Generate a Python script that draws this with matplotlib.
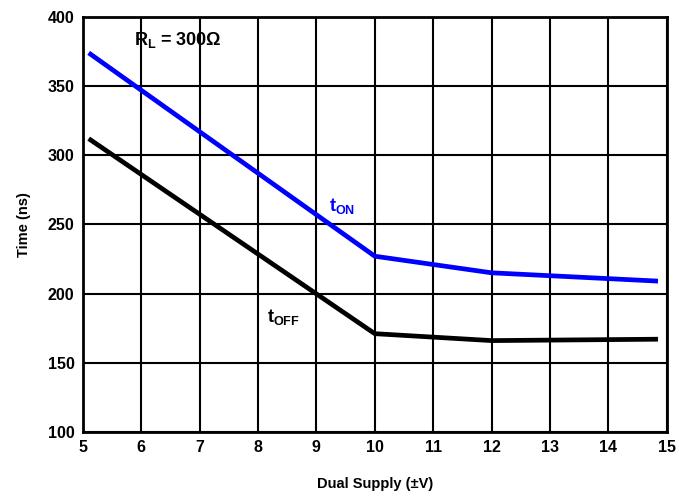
import matplotlib
matplotlib.use("Agg")
import matplotlib.pyplot as plt

plt.rcParams['font.family'] = ['Liberation Sans', 'DejaVu Sans']
plt.rcParams['font.weight'] = 'bold'
plt.rcParams['mathtext.fontset'] = 'custom'
plt.rcParams['mathtext.bf'] = 'Liberation Sans:bold'
plt.rcParams['mathtext.rm'] = 'Liberation Sans:bold'

# data
supply = [5.1, 10, 12, 14.85]
t_on = [374, 227, 215, 209]
t_off = [312, 171, 166, 167]

fig = plt.figure(figsize=(6.79, 4.97), dpi=100)
ax = fig.add_axes([0.122, 0.131, 0.860, 0.835])

ax.plot(supply, t_on, color='#0000ff', lw=3.4, solid_capstyle='butt', zorder=3)
ax.plot(supply, t_off, color='black', lw=3.4, solid_capstyle='butt', zorder=3)

ax.set_xlim(5, 15)
ax.set_ylim(100, 400)
ax.set_xticks(range(5, 16))
ax.set_yticks(range(100, 401, 50))
ax.grid(True, color='black', lw=1.5)
ax.set_axisbelow(True)
for s in ax.spines.values():
    s.set_linewidth(2)
ax.tick_params(length=0, labelsize=11.5, pad=6)
for lab in ax.get_xticklabels() + ax.get_yticklabels():
    lab.set_fontweight('bold')

ax.set_xlabel('Dual Supply (\u00b1V)', fontsize=10.5, fontweight='bold', labelpad=16)
ax.set_ylabel('Time (ns)', fontsize=10.5, fontweight='bold', labelpad=12)

ax.text(5.88, 383, r'R$_\mathbf{L}$ = 300Ω', fontsize=13, fontweight='bold', ha='left', va='center')
ax.text(9.22, 263, r't$_\mathbf{ON}$', fontsize=13, fontweight='bold', color='#0000ff', ha='left', va='center')
ax.text(8.15, 183, r't$_\mathbf{OFF}$', fontsize=13, fontweight='bold', ha='left', va='center')

fig.savefig('out.png', dpi=100)
